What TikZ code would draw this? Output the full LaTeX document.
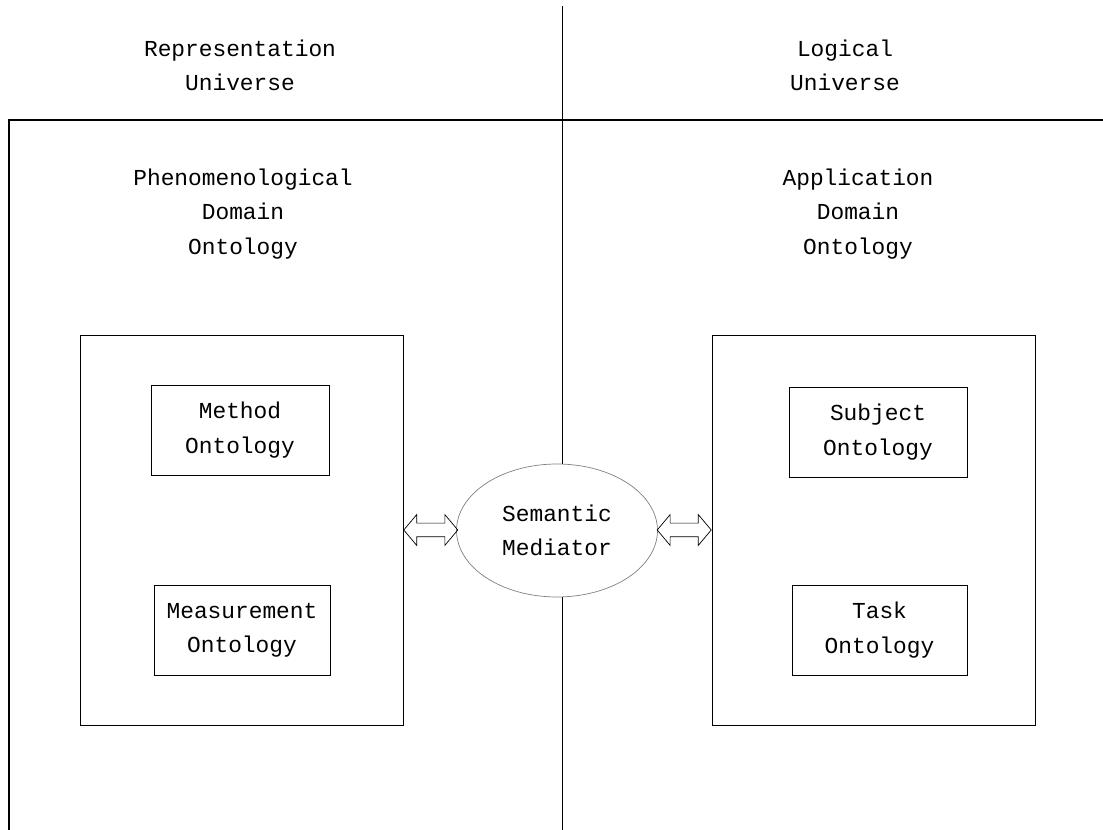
\documentclass[tikz,border=0pt]{standalone}
\usepackage{fontspec}
\setmonofont{Liberation Mono}
\usetikzlibrary{positioning, shapes.geometric, shapes.arrows}

\begin{document}
\begin{tikzpicture}[x=0.02cm, y=-0.02cm, font=\ttfamily\fontsize{13}{19.5}\selectfont,
    title/.style={align=center, inner sep=0},
    frame/.style={draw, minimum width=6.46cm, minimum height=7.8cm, inner sep=0},
    onto/.style={draw, align=center, minimum width=3.56cm, minimum height=1.8cm, inner sep=0},
    mediator/.style={ellipse, draw=gray, minimum width=4.02cm, minimum height=2.66cm, inner sep=0, align=center},
    link/.style={double arrow, draw, double arrow head extend=0.17cm, minimum width=0.6cm,
        minimum height=1.08cm, inner sep=0.13cm, double arrow tip angle=100}]
 	\useasboundingbox (0,0) rectangle (1103,830);

 	% universes
 	\node[title] (ru) at (240,65) {Representation\\Universe};
 	\node[title] (lu) at (845,65) {Logical\\Universe};
 	\node[title] (pdo) at (243,214) {Phenomenological\\Domain\\Ontology};
 	\node[title] (ado) at (858,214) {Application\\Domain\\Ontology};

 	% boxes
 	\node[frame] (lf) at (241.5,530) {};
 	\node[frame] (rf) at (873.5,530) {};
 	\node[onto] (method) at (240,430) {Method\\Ontology};
 	\node[onto, minimum width=3.52cm] (measure) at (242,630) {Measurement\\Ontology};
 	\node[onto] (subject) at (878,432) {Subject\\Ontology};
 	\node[onto, minimum width=3.5cm] (task) at (879.5,630) {Task\\Ontology};
 	\node[mediator] (med) at (557,530.5) {Semantic\\Mediator};

 	\node[link, right=0pt of lf] (arrl) {};
 	\node[link, left=0pt of rf] (arrr) {};

 	% dividing lines
 	\coordinate (divtop) at (562,6);
 	\coordinate (divbot) at (562,830);
 	\coordinate (corner) at (9,120);
 	\coordinate (hend) at (1103,120);
 	\coordinate (vend) at (9,830);
 	\draw[semithick] (hend) -- (corner) -- (vend);
 	\draw (divtop) -- (divtop |- med.north);
 	\draw (divbot |- med.south) -- (divbot);
\end{tikzpicture}
\end{document}
